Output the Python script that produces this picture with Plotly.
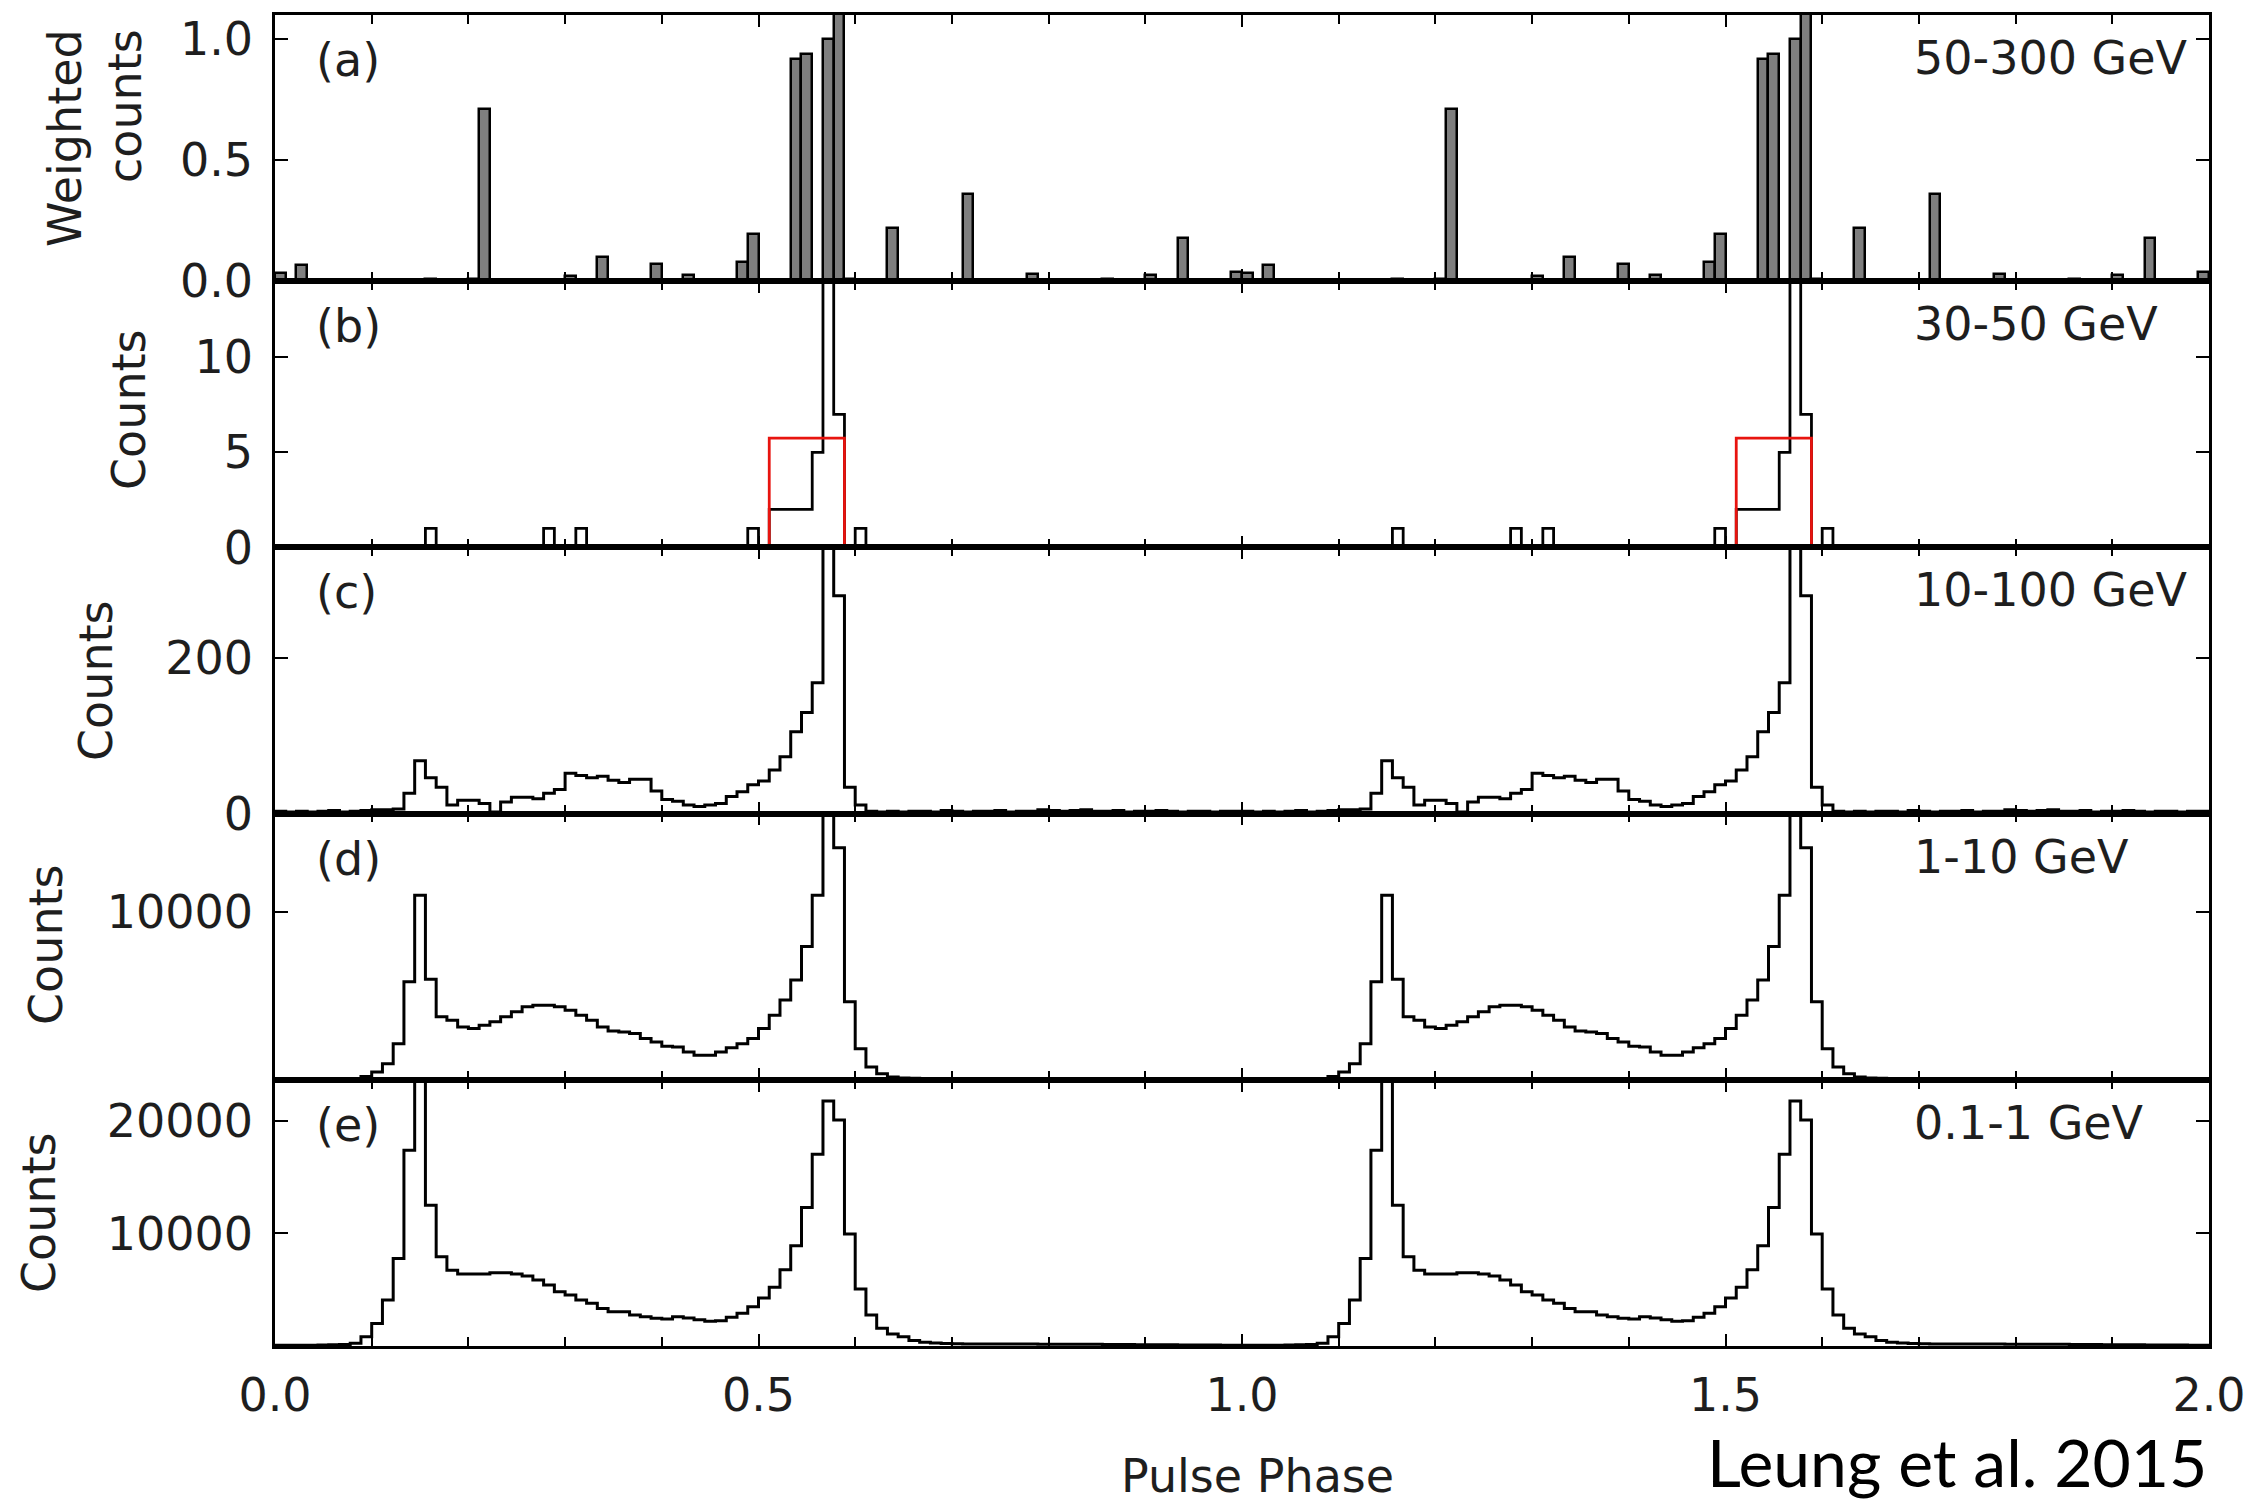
import plotly.graph_objects as go
from plotly.subplots import make_subplots

# ---------------------------------------------------------------------------
# Vela pulsar light curves, 90 phase bins per rotation (phase 0-1),
# plotted twice over pulse phase 0-2.
# ---------------------------------------------------------------------------
N_BINS = 90

# (a) 50-300 GeV, weighted counts
weighted_50_300 = [
    0.035, 0.0, 0.065, 0.0, 0.0, 0.0, 0.005, 0.0, 0.0, 0.0,
    0.0, 0.0, 0.0, 0.0, 0.008, 0.0, 0.0, 0.0, 0.008, 0.71,
    0.0, 0.0, 0.005, 0.0, 0.0, 0.0, 0.0, 0.02, 0.0, 0.0,
    0.098, 0.0, 0.0, 0.0, 0.0, 0.07, 0.0, 0.0, 0.025, 0.0,
    0.0, 0.0, 0.0, 0.08, 0.195, 0.0, 0.0, 0.0, 0.92, 0.94,
    0.0, 1.0, 1.35, 0.01, 0.0, 0.0, 0.0, 0.22, 0.0, 0.0,
    0.0, 0.0, 0.0, 0.0, 0.36, 0.0, 0.0, 0.005, 0.0, 0.0,
    0.028, 0.0, 0.0, 0.0, 0.0, 0.0, 0.0, 0.008, 0.0, 0.0,
    0.0, 0.025, 0.0, 0.0, 0.18, 0.0, 0.0, 0.0, 0.005, 0.04,
]

# (b) 30-50 GeV counts
counts_30_50 = [
    0, 0, 0, 0, 0, 0, 0, 0, 0, 0,
    0, 0, 0, 0, 1, 0, 0, 0, 0, 0,
    0, 0, 0, 0, 0, 1, 0, 0, 1, 0,
    0, 0, 0, 0, 0, 0, 0, 0, 0, 0,
    0, 0, 0, 0, 1, 0, 2, 2, 2, 2,
    5, 16, 7, 0, 1, 0, 0, 0, 0, 0,
    0, 0, 0, 0, 0, 0, 0, 0, 0, 0,
    0, 0, 0, 0, 0, 0, 0, 0, 0, 0,
    0, 0, 0, 0, 0, 0, 0, 0, 0, 0,
]
# (b) block representation of the 30-50 GeV peak (red)
block_edges = [0.0, 46 / 90, 53 / 90, 1.0]
block_levels = [0.0, 5.75, 0.0]

# (c) 10-100 GeV counts
counts_10_100 = [
    3, 2, 3, 2, 3, 4, 2, 3, 4, 5,
    5, 6, 26, 68, 46, 34, 11, 17, 17, 13,
    2, 15, 21, 21, 19, 26, 31, 52, 49, 46,
    48, 43, 40, 44, 44, 29, 18, 16, 11, 9,
    11, 13, 22, 28, 37, 42, 56, 73, 105, 130,
    168, 420, 280, 34, 11, 3, 2, 3, 2, 3,
    3, 2, 4, 3, 2, 3, 3, 4, 2, 3,
    3, 5, 4, 3, 4, 5, 3, 3, 4, 2,
    3, 3, 4, 3, 2, 3, 3, 2, 3, 3,
]

# (d) 1-10 GeV counts
counts_1_10 = [
    40, 40, 45, 40, 50, 50, 60, 80, 200, 460,
    960, 2160, 5860, 11020, 6000, 3760, 3560, 3160, 3060, 3260,
    3460, 3760, 4060, 4360, 4460, 4460, 4360, 4160, 3860, 3560,
    3160, 2920, 2860, 2760, 2460, 2260, 2000, 1960, 1660, 1460,
    1460, 1660, 1920, 2160, 2460, 3060, 3860, 4760, 5960, 7960,
    11020, 19000, 13860, 4660, 1860, 760, 360, 160, 110, 90,
    80, 70, 60, 60, 55, 50, 50, 45, 45, 45,
    40, 40, 40, 40, 40, 40, 40, 40, 40, 40,
    40, 40, 40, 40, 40, 40, 40, 40, 40, 40,
]

# (e) 0.1-1 GeV counts
counts_01_1 = [
    60, 60, 60, 70, 80, 100, 130, 240, 830, 2010,
    4080, 7780, 17390, 30000, 12510, 7930, 6740, 6390, 6390, 6390,
    6510, 6510, 6390, 6210, 5860, 5410, 4820, 4530, 4080, 3790,
    3340, 3050, 3050, 2750, 2600, 2460, 2400, 2600, 2480, 2330,
    2190, 2250, 2550, 2900, 3490, 4260, 5210, 6770, 8900, 12300,
    17040, 21770, 20080, 9940, 5060, 2750, 1570, 1070, 830, 480,
    330, 260, 220, 200, 180, 170, 170, 170, 170, 170,
    170, 160, 160, 160, 150, 150, 150, 140, 140, 130,
    120, 110, 100, 100, 90, 90, 80, 80, 70, 70,
]

energy_labels = ["50-300 GeV", "30-50 GeV", "10-100 GeV", "1-10 GeV", "0.1-1 GeV"]
panel_tags = ["(a)", "(b)", "(c)", "(d)", "(e)"]
y_titles = ["Weighted<br>counts", "Counts", "Counts", "Counts", "Counts"]

y_ranges = [[0, 1.1], [0, 14], [0, 342], [0, 15900], [0, 23650]]
y_tickvals = [[0.0, 0.5, 1.0], [0, 5, 10], [0, 200], [10000], [10000, 20000]]
y_ticktext = [["0.0", "0.5", "1.0"], ["0", "5", "10"], ["0", "200"], ["10000"], ["10000", "20000"]]

x_tickvals = [0.0, 0.5, 1.0, 1.5, 2.0]
x_ticktext = ["0.0", "0.5", "1.0", "1.5", "2.0"]
x_title = "Pulse Phase"
credit = "Leung et al. 2015"

# ---------------------------------------------------------------------------
W, H = 2258, 1502
ML, MR, MT, MB = 275, 49, 15, 156
FONT = "DejaVu Sans"
FS = 46
INK = "#1e1e1e"


def px_x(px):
    return (px - ML) / (W - ML - MR)


def px_y(py):
    return (H - MB - py) / (H - MT - MB)


edges = [k / N_BINS for k in range(2 * N_BINS + 1)]
centers = [(k + 0.5) / N_BINS for k in range(2 * N_BINS)]


def two_cycles(vals):
    return list(vals) + list(vals)


def step_trace(vals, color="black", width=3):
    v = two_cycles(vals)
    return go.Scatter(
        x=edges, y=v + [0], mode="lines", line_shape="hv",
        line=dict(color=color, width=width), hoverinfo="skip", showlegend=False,
    )


fig = make_subplots(rows=5, cols=1, vertical_spacing=0)

# (a) filled histogram bars
fig.add_trace(
    go.Bar(
        x=centers, y=two_cycles(weighted_50_300), width=1 / N_BINS,
        marker=dict(color="#7f7f7f", line=dict(color="black", width=2.5)),
        showlegend=False, hoverinfo="skip",
    ),
    row=1, col=1,
)

# (b) step histogram + red block
fig.add_trace(step_trace(counts_30_50, width=2.8), row=2, col=1)
bx = block_edges[:-1] + [e + 1 for e in block_edges]
by = block_levels + block_levels + [0.0]
fig.add_trace(
    go.Scatter(x=bx, y=by, mode="lines", line_shape="hv",
               line=dict(color="#e8140f", width=2.8), hoverinfo="skip", showlegend=False),
    row=2, col=1,
)

# (c)-(e) step histograms
fig.add_trace(step_trace(counts_10_100), row=3, col=1)
fig.add_trace(step_trace(counts_1_10), row=4, col=1)
fig.add_trace(step_trace(counts_01_1), row=5, col=1)

for i in range(5):
    r = i + 1
    fig.update_xaxes(
        range=[0, 2], tickvals=x_tickvals, ticktext=x_ticktext,
        showticklabels=(r == 5),
        ticks="inside", ticklen=12, tickwidth=2.2, tickcolor="black",
        minor=dict(tickmode="linear", tick0=0, dtick=0.1, ticks="inside",
                   ticklen=9, tickwidth=2, tickcolor="black"),
        showline=True, linewidth=2.5, linecolor="black", mirror="ticks",
        showgrid=False, zeroline=False,
        tickfont=dict(family=FONT, size=FS, color=INK),
        ticklabelstandoff=7,
        row=r, col=1,
    )
    fig.update_yaxes(
        range=y_ranges[i], tickvals=y_tickvals[i], ticktext=y_ticktext[i],
        ticks="inside", ticklen=13, tickwidth=2.2, tickcolor="black",
        showline=True, linewidth=2.5, linecolor="black", mirror="ticks",
        showgrid=False, zeroline=False,
        tickfont=dict(family=FONT, size=FS, color=INK),
        ticklabelstandoff=10,
        row=r, col=1,
    )

annotations = []
title_pos = [(95, 138), (129, 410), (96, 681), (46, 945), (39, 1213)]
for i in range(5):
    yref = "y domain" if i == 0 else f"y{i + 1} domain"
    annotations.append(dict(
        text=panel_tags[i], xref="paper", yref=yref, x=px_x(314), y=1 - 45 / 266,
        xanchor="left", yanchor="middle", showarrow=False,
        font=dict(family=FONT, size=FS, color=INK),
    ))
    annotations.append(dict(
        text=energy_labels[i], xref="paper", yref=yref, x=px_x(1912), y=1 - 43 / 266,
        xanchor="left", yanchor="middle", showarrow=False,
        font=dict(family=FONT, size=FS, color=INK),
    ))
    tx, ty = title_pos[i]
    annotations.append(dict(
        text=y_titles[i], xref="paper", yref="paper", x=px_x(tx), y=px_y(ty),
        xanchor="center", yanchor="middle", textangle=-90, align="right",
        showarrow=False, font=dict(family=FONT, size=FS, color=INK),
    ))

annotations.append(dict(
    text=x_title, xref="paper", yref="paper", x=px_x(1257), y=px_y(1476),
    xanchor="center", yanchor="middle", showarrow=False,
    font=dict(family=FONT, size=FS, color=INK),
))
# credit line sits in the bottom-right corner of the figure
annotations.append(dict(
    text=credit, xref="paper", yref="paper", x=px_x(2208), y=px_y(1502),
    xanchor="right", yanchor="bottom", showarrow=False, borderpad=0,
    font=dict(family="Lato", size=66, color="black"),
))

fig.update_layout(
    width=W, height=H,
    margin=dict(l=ML, r=MR, t=MT, b=MB),
    paper_bgcolor="white", plot_bgcolor="white",
    bargap=0, showlegend=False,
    annotations=annotations,
)

fig.write_html("out.html")
